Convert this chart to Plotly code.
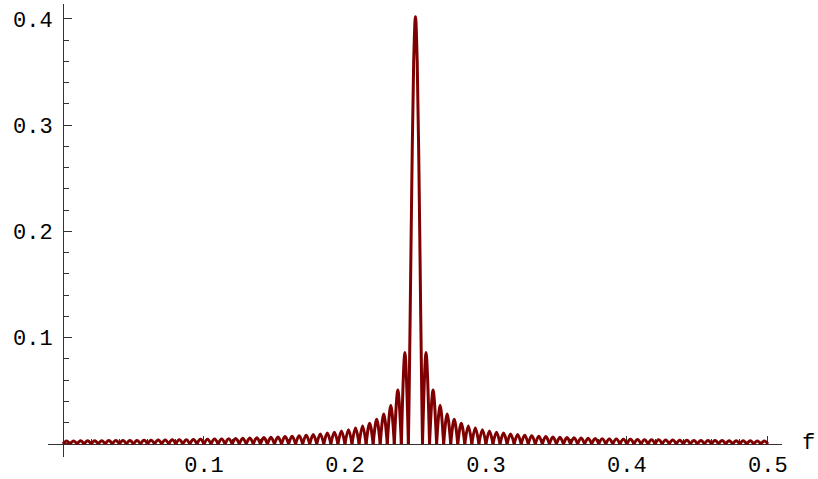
import plotly.graph_objects as go

# ---- data ----
# zero crossings of the side lobes (f) left of the main lobe
left_edges = [0.000, 0.005, 0.010, 0.015, 0.020, 0.025, 0.030, 0.035, 0.040, 0.045,
              0.050, 0.055, 0.060, 0.065, 0.070, 0.075, 0.080, 0.085, 0.090, 0.095,
              0.100, 0.105, 0.110, 0.115, 0.120, 0.125, 0.130, 0.135, 0.140, 0.145,
              0.150, 0.155, 0.160, 0.165, 0.170, 0.175, 0.180, 0.185, 0.190, 0.195,
              0.200, 0.205, 0.210, 0.215, 0.220, 0.225, 0.230, 0.235, 0.240, 0.245]
# side-lobe peak heights, left side (f from 0 towards 0.245)
left_heights = [0.0029, 0.0029, 0.0030, 0.0030, 0.0031, 0.0031, 0.0032, 0.0032, 0.0033, 0.0034,
                0.0034, 0.0035, 0.0036, 0.0037, 0.0038, 0.0039, 0.0040, 0.0041, 0.0043, 0.0044,
                0.0045, 0.0047, 0.0048, 0.0050, 0.0051, 0.0053, 0.0056, 0.0058, 0.0060, 0.0063,
                0.0066, 0.0070, 0.0074, 0.0078, 0.0083, 0.0089, 0.0095, 0.0103, 0.0111, 0.0122,
                0.0135, 0.0150, 0.0170, 0.0196, 0.0232, 0.0283, 0.0364, 0.0509, 0.0860]
# zero crossings right of the main lobe
right_edges = [0.255, 0.260, 0.265, 0.270, 0.275, 0.280, 0.285, 0.290, 0.295, 0.300,
               0.305, 0.310, 0.315, 0.320, 0.325, 0.330, 0.335, 0.340, 0.345, 0.350,
               0.355, 0.360, 0.365, 0.370, 0.375, 0.380, 0.385, 0.390, 0.395, 0.400,
               0.405, 0.410, 0.415, 0.420, 0.425, 0.430, 0.435, 0.440, 0.445, 0.450,
               0.455, 0.460, 0.465, 0.470, 0.475, 0.480, 0.485, 0.490, 0.495, 0.500]
right_heights = [0.0860, 0.0509, 0.0364, 0.0283, 0.0232, 0.0196, 0.0170, 0.0150, 0.0135, 0.0122,
                 0.0111, 0.0103, 0.0095, 0.0089, 0.0083, 0.0078, 0.0074, 0.0070, 0.0066, 0.0063,
                 0.0060, 0.0058, 0.0056, 0.0053, 0.0051, 0.0050, 0.0048, 0.0047, 0.0045, 0.0044,
                 0.0043, 0.0041, 0.0040, 0.0039, 0.0038, 0.0037, 0.0036, 0.0035, 0.0034, 0.0034,
                 0.0033, 0.0032, 0.0032, 0.0031, 0.0031, 0.0030, 0.0030, 0.0029, 0.0029]
# main lobe samples
main_f = [0.245, 0.2455, 0.24625, 0.2475, 0.24875, 0.250, 0.25125, 0.2525, 0.25375, 0.2545, 0.255]
main_v = [0.000, 0.044, 0.120, 0.255, 0.360, 0.402, 0.360, 0.255, 0.120, 0.044, 0.000]

x_tick_vals = [0.1, 0.2, 0.3, 0.4, 0.5]
x_tick_text = ["0.1", "0.2", "0.3", "0.4", "0.5"]
y_tick_vals = [0.1, 0.2, 0.3, 0.4]
y_tick_text = ["0.1", "0.2", "0.3", "0.4"]
axis_label = "f"

# ---- build lobe segments ----
xs, ys = [], []
def add_lobes(edges, heights):
    for i, h in enumerate(heights):
        a, b = edges[i], edges[i + 1]
        xs.extend([a, (a + b) / 2, b, None])
        ys.extend([0.0, h, 0.0, None])

add_lobes(left_edges, left_heights)
xs.extend(main_f + [None]); ys.extend(main_v + [None])
add_lobes(right_edges, right_heights)

color = "#7f0000"
fig = go.Figure()
fig.add_trace(go.Scatter(x=xs, y=ys, mode="lines",
                         line=dict(color=color, width=3, shape="spline"),
                         connectgaps=False, hoverinfo="skip"))

W, H = 818, 479
L, R, T, B = 48, 36, 4, 22
xmin, xmax = -0.01064, 0.51
ymin, ymax = -0.01224, 0.4141
xpos = (0 - ymin) / (ymax - ymin)
ypos = (0 - xmin) / (xmax - xmin)

font = dict(family="Liberation Mono, Courier New, monospace", size=22, color="#000")
axcol = "#333"

common = dict(showgrid=False, zeroline=False, showline=True, linecolor=axcol, linewidth=1,
              tickmode="array", ticks="inside", ticklen=8, tickwidth=1, tickcolor=axcol,
              minor=dict(ticks="inside", ticklen=5, tickwidth=1, tickcolor=axcol,
                         tickmode="linear", tick0=0, dtick=0.02, showgrid=False),
              tickfont=font, layer="below traces",
              automargin=False, fixedrange=True)

fig.update_layout(
    width=W, height=H, margin=dict(l=L, r=R, t=T, b=B, autoexpand=False),
    plot_bgcolor="white", paper_bgcolor="white", showlegend=False,
    xaxis=dict(range=[xmin, xmax], anchor="free", position=xpos,
               tickvals=x_tick_vals, ticktext=x_tick_text, ticklabelstandoff=1, **common),
    yaxis=dict(range=[ymin, ymax], anchor="free", position=ypos,
               tickvals=y_tick_vals, ticktext=y_tick_text, ticklabelstandoff=6, **common),
    annotations=[dict(text=axis_label, xref="paper", yref="paper",
                      x=(808 - L) / (W - L - R), y=xpos,
                      xanchor="center", yanchor="middle", yshift=0, showarrow=False, font=font)],
)

fig.write_html("out.html", config={"displayModeBar": False},
               post_script="document.body.style.margin='0';")
